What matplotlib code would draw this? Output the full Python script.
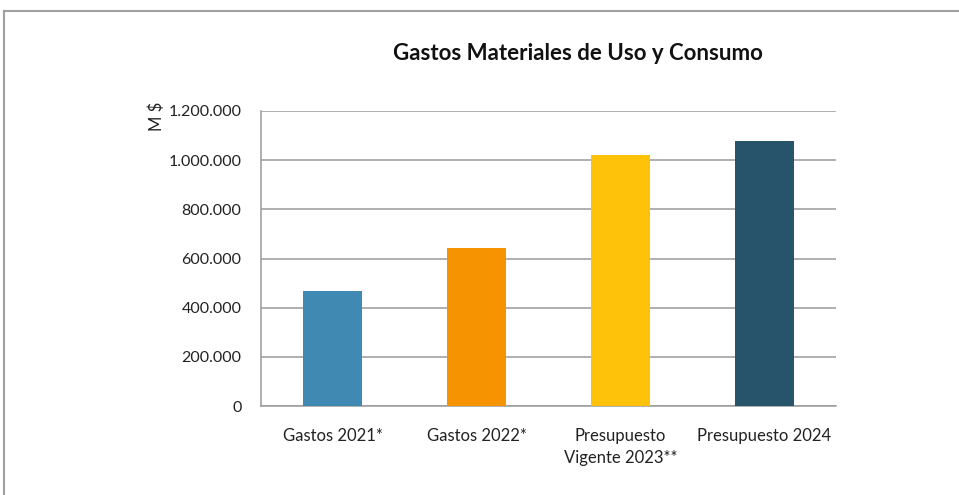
import matplotlib
matplotlib.use("Agg")
import matplotlib.pyplot as plt
from matplotlib.ticker import FuncFormatter
from matplotlib.lines import Line2D

categories = ["Gastos 2021*", "Gastos 2022*", "Presupuesto\nVigente 2023**", "Presupuesto 2024"]
values = [467000, 642000, 1020000, 1077000]
colors = ["#3f89b3", "#f59300", "#ffc20a", "#27536b"]
yticks = [0, 200000, 400000, 600000, 800000, 1000000, 1200000]

plt.rcParams['font.family'] = ['Lato', 'DejaVu Sans']

fig = plt.figure(figsize=(9.59, 4.95), dpi=100)
ax = fig.add_axes([261/959, 1-406/495, (836-261)/959, (406-111)/495])

x = range(len(categories))
ax.bar(x, values, width=0.41, color=colors, zorder=3)
ax.set_xlim(-0.5, len(categories)-0.5)
ax.set_ylim(0, 1200000)
ax.set_yticks(yticks)
ax.yaxis.set_major_formatter(FuncFormatter(lambda v, p: f"{int(v):,}".replace(",", ".")))
ax.set_xticks(list(x))
ax.set_xticklabels(categories, fontsize=12, color="#222222", linespacing=1.45)
ax.tick_params(axis='y', labelsize=11.5, colors="#222222", length=0, pad=14)
ax.tick_params(axis='x', length=0, pad=16)
ax.grid(axis='y', color="#9a9a9a", linewidth=1.1, zorder=0)
for s in ['top', 'right']:
    ax.spines[s].set_visible(False)
for s in ['left', 'bottom']:
    ax.spines[s].set_color("#9a9a9a")
    ax.spines[s].set_linewidth(1.1)

fig.text(578/959, 1-53/495, "Gastos Materiales de Uso y Consumo", ha='center', va='center',
         fontsize=16, fontweight='bold', color="#111111")
fig.text(157/959, 1-116/495, "M $", rotation=90, ha='center', va='center', fontsize=12, color="#222222")

# outer frame (top and left)
fig.add_artist(Line2D([4/959, 1], [1-11/495, 1-11/495], color="#a0a0a0", linewidth=1.5, transform=fig.transFigure))
fig.add_artist(Line2D([4/959, 4/959], [0, 1-11/495], color="#a0a0a0", linewidth=1.5, transform=fig.transFigure))

fig.savefig("out.png", dpi=100)
